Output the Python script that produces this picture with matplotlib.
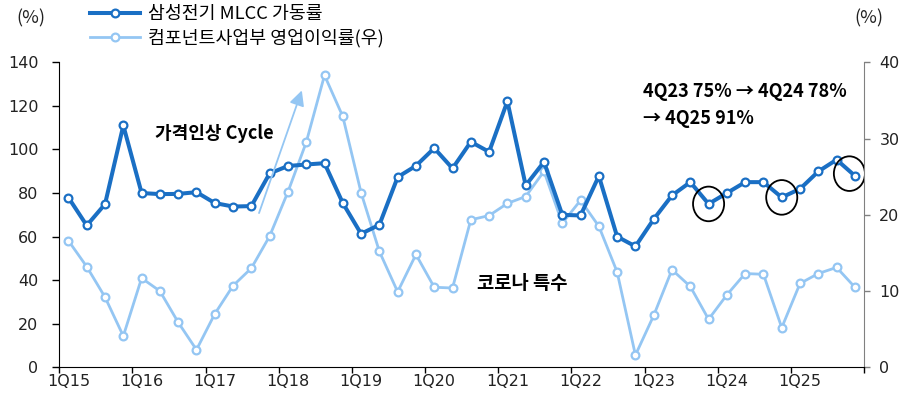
import matplotlib
matplotlib.use("Agg")
import matplotlib.pyplot as plt
from matplotlib.patches import Ellipse
from matplotlib.lines import Line2D

plt.rcParams['font.family'] = ['Noto Sans CJK KR', 'DejaVu Sans']

quarters = [f"{q}Q{y}" for y in range(15, 26) for q in range(1, 5)]
mlcc_util = [77.9, 65.1, 74.9, 111.0, 80.0, 79.5, 79.6, 80.4, 75.4, 73.8, 74.0, 89.0,
             92.4, 93.1, 93.7, 75.4, 61.3, 65.4, 87.3, 92.5, 100.6, 91.3, 103.5, 98.9,
             122.1, 83.5, 94.3, 70.0, 69.7, 87.8, 60.0, 55.5, 68.0, 78.9, 85.0, 75.0,
             80.0, 85.0, 85.0, 78.0, 81.9, 89.9, 95.3, 87.9]
comp_margin = [16.6, 13.2, 9.2, 4.1, 11.7, 10.0, 5.9, 2.3, 7.0, 10.7, 13.0, 17.2,
               23.0, 29.5, 38.3, 32.9, 22.9, 15.2, 9.9, 14.8, 10.5, 10.4, 19.35, 19.9,
               21.5, 22.4, 25.7, 18.9, 21.9, 18.5, 12.5, 1.6, 6.8, 12.8, 10.6, 6.3,
               9.5, 12.3, 12.2, 5.2, 11.0, 12.3, 13.1, 10.5]
label1 = "삼성전기 MLCC 가동률"
label2 = "컴포넌트사업부 영업이익률(우)"
highlight = ["4Q23", "4Q24", "4Q25"]

DARK = "#1a6fc4"
LIGHT = "#94c6f3"
TICKFONT = dict(family='DejaVu Sans', size=11.5)

fig = plt.figure(figsize=(9.04, 4.01), dpi=100)
ax = fig.add_axes([0.0656, 0.084, 0.8902, 0.7606])
ax2 = ax.twinx()

x = list(range(len(quarters)))
ax.plot(x, mlcc_util, color=DARK, lw=2.9, marker='o', ms=5.6, mfc='white',
        mec=DARK, mew=1.6, zorder=3)
ax2.plot(x, comp_margin, color=LIGHT, lw=2.0, marker='o', ms=5.6, mfc='white',
         mec=LIGHT, mew=1.6, zorder=3)

ax.set_zorder(ax2.get_zorder() + 1)
ax.patch.set_visible(False)

ax.set_xlim(-0.5, len(quarters) - 0.5)
ax.set_ylim(0, 140)
ax2.set_ylim(0, 40)
ax.set_yticks(range(0, 141, 20))
ax2.set_yticks(range(0, 41, 10))

major = [i - 0.5 for i in range(0, len(quarters) + 1, 4)]
minor = list(range(0, len(quarters), 4))
ax.set_xticks(major)
ax.set_xticklabels([])
ax.set_xticks(minor, minor=True)
ax.set_xticklabels([quarters[i] for i in minor], minor=True, fontdict=TICKFONT)
ax.set_yticklabels([str(v) for v in range(0, 141, 20)], fontdict=TICKFONT)
ax2.set_yticklabels([str(v) for v in range(0, 41, 10)], fontdict=TICKFONT)
ax.tick_params(axis='x', which='major', length=4, width=1, direction='out', color='black')
ax.tick_params(axis='x', which='minor', length=0, pad=5, labelcolor='#222222')
ax.tick_params(axis='y', length=5, width=1, direction='out', pad=10, labelcolor='#222222')
ax2.tick_params(axis='y', length=4, width=1, direction='out', pad=7,
                labelcolor='#222222', color='#808080')

for a in (ax, ax2):
    a.spines['top'].set_visible(False)
ax.spines['right'].set_visible(False)
ax2.spines['left'].set_visible(False)
ax2.spines['bottom'].set_visible(False)
ax2.spines['right'].set_color('#808080')
ax.spines['left'].set_color('black')
ax.spines['bottom'].set_color('black')

# annotations
for q in highlight:
    i = quarters.index(q)
    dx = -0.3 if q == "4Q25" else 0.0
    dy = 1.0 if q == "4Q25" else 0.0
    ax.add_patch(Ellipse((i + dx, mlcc_util[i] + dy), 1.7, 15.9, fill=False,
                         ec='black', lw=1.3, zorder=5))

ax.annotate("", xy=(12.76, 127.1), xytext=(10.42, 70.8),
            arrowprops=dict(arrowstyle='-|>,head_length=0.9,head_width=0.45',
                            color=LIGHT, lw=1.3, shrinkA=0, shrinkB=0), zorder=4)

ax.text(4.73, 107.5, "가격인상 Cycle", fontsize=13, fontweight='bold', va='center',
        ha='left', color='black')
ax.text(22.32, 38.3, "코로나 특수", fontsize=13.5, fontweight='bold', va='center',
        ha='left', color='black')
ax.text(31.43, 126.4, "4Q23 75% → 4Q24 78%", fontsize=13, fontweight='bold',
        va='center', ha='left', color='black')
ax.text(31.43, 114.1, "→ 4Q25 91%", fontsize=13, fontweight='bold',
        va='center', ha='left', color='black')

fig.text(16 / 904, 1 - 18.3 / 401, "(%)", fontsize=13, va='center', ha='left', color='#222222')
fig.text(854 / 904, 1 - 18.3 / 401, "(%)", fontsize=13, va='center', ha='left', color='#222222')

h1 = Line2D([], [], color=DARK, lw=2.9, marker='o', ms=5.6, mfc='white', mec=DARK, mew=1.6)
h2 = Line2D([], [], color=LIGHT, lw=2.0, marker='o', ms=5.6, mfc='white', mec=LIGHT, mew=1.6)
fig.legend([h1, h2], [label1, label2], loc='upper left',
           bbox_to_anchor=(88 / 904, 1 - 3.5 / 401), frameon=False, fontsize=13.2,
           handlelength=2.75, handletextpad=0.45, labelspacing=0.33, borderpad=0.1,
           borderaxespad=0, numpoints=1, markerfirst=True)

fig.savefig("out.png", dpi=100)
